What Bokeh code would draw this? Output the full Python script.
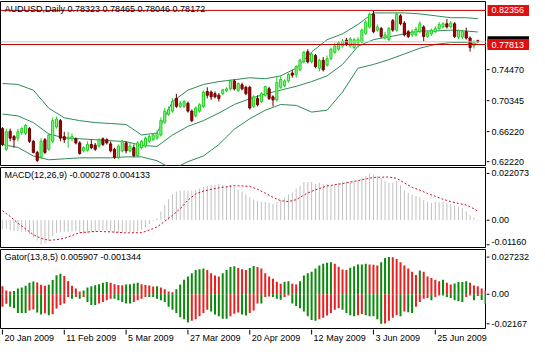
from bokeh.plotting import figure
from bokeh.layouts import column, row
from bokeh.models import Range1d, Label, Span
from bokeh.core.properties import value
from bokeh.embed import file_html
from bokeh.resources import INLINE

FONT = "Liberation Sans"

# ---------------- data ----------------
opens = [0.6662,0.6387,0.6628,0.6556,0.6535,0.6611,0.6599,0.6662,0.6493,0.6345,
         0.6281,0.6514,0.6387,0.6493,0.6683,0.6768,0.6556,0.6527,0.6527,0.6527,
         0.6472,0.6366,0.6374,0.6451,0.6442,0.6429,0.6527,0.6514,0.6459,0.6387,
         0.6281,0.6366,0.6472,0.6366,0.6408,0.6302,0.6408,0.6429,0.6493,0.6514,
         0.6535,0.6577,0.6747,0.6852,0.6895,0.7064,0.6958,0.6958,0.7000,0.6895,
         0.6831,0.6895,0.6958,0.7157,0.7148,0.7127,0.7106,0.7127,0.7170,0.7191,
         0.7297,0.7170,0.7246,0.7212,0.7212,0.6958,0.7064,0.7022,0.7106,0.7191,
         0.7085,0.7043,0.7212,0.7233,0.7297,0.7402,0.7381,0.7445,0.7550,0.7686,
         0.7550,0.7635,0.7466,0.7572,0.7508,0.7593,0.7677,0.7719,0.7762,0.7838,
         0.7762,0.7741,0.7804,0.7813,0.7931,0.8016,0.8185,0.7973,0.7994,0.7868,
         0.7846,0.8100,0.7973,0.8164,0.8066,0.7952,0.7910,0.7910,0.7952,0.8016,
         0.7889,0.7923,0.7952,0.7994,0.8016,0.8058,0.8016,0.8058,0.7880,0.7880,
         0.7952,0.7868,0.7762,0.78323]
highs = [0.6683,0.6662,0.6662,0.6577,0.6662,0.6683,0.6725,0.6683,0.6514,0.6366,
         0.6535,0.6535,0.6599,0.6810,0.6823,0.6789,0.6620,0.6620,0.6599,0.6544,
         0.6493,0.6429,0.6493,0.6514,0.6472,0.6535,0.6544,0.6535,0.6493,0.6408,
         0.6451,0.6514,0.6493,0.6472,0.6451,0.6493,0.6514,0.6556,0.6577,0.6599,
         0.6641,0.6810,0.6937,0.6958,0.7064,0.7127,0.7034,0.7043,0.7022,0.6916,
         0.6958,0.7000,0.7170,0.7212,0.7170,0.7157,0.7136,0.7191,0.7212,0.7318,
         0.7318,0.7275,0.7275,0.7233,0.7233,0.7106,0.7106,0.7148,0.7233,0.7220,
         0.7106,0.7360,0.7360,0.7318,0.7402,0.7445,0.7508,0.7593,0.7698,0.7719,
         0.7677,0.7656,0.7593,0.7614,0.7635,0.7741,0.7804,0.7825,0.7855,0.7868,
         0.7880,0.7868,0.7880,0.7994,0.8109,0.8206,0.82356,0.8049,0.8016,0.7952,
         0.8016,0.8121,0.8214,0.8185,0.8092,0.7973,0.7982,0.8016,0.8092,0.8037,
         0.7965,0.7994,0.8024,0.8079,0.8079,0.8121,0.8092,0.8079,0.7982,0.7973,
         0.8007,0.7889,0.7838,0.78465]
lows = [0.6429,0.6366,0.6493,0.6408,0.6493,0.6577,0.6577,0.6472,0.6332,0.6218,
        0.6260,0.6324,0.6366,0.6472,0.6662,0.6493,0.6472,0.6408,0.6493,0.6451,
        0.6315,0.6345,0.6357,0.6387,0.6366,0.6408,0.6429,0.6451,0.6345,0.6260,
        0.6260,0.6345,0.6332,0.6345,0.6281,0.6281,0.6387,0.6408,0.6472,0.6493,
        0.6514,0.6556,0.6725,0.6831,0.6874,0.6937,0.6937,0.6937,0.6874,0.6747,
        0.6810,0.6874,0.6937,0.7064,0.7043,0.7064,0.7022,0.7106,0.7148,0.7170,
        0.7170,0.7148,0.7170,0.7106,0.6916,0.6937,0.6958,0.7000,0.7085,0.7043,
        0.6958,0.7022,0.7191,0.7212,0.7275,0.7339,0.7339,0.7423,0.7529,0.7529,
        0.7529,0.7466,0.7423,0.7423,0.7487,0.7572,0.7656,0.7698,0.7741,0.7762,
        0.7741,0.7719,0.7741,0.7796,0.7910,0.7994,0.7931,0.7952,0.7868,0.7846,
        0.7825,0.7952,0.7952,0.8037,0.7889,0.7868,0.7880,0.7889,0.7931,0.7825,
        0.7868,0.7897,0.7931,0.7973,0.7994,0.7994,0.7994,0.7868,0.7855,0.7855,
        0.7846,0.7686,0.7728,0.78046]
closes = [0.6451,0.6620,0.6535,0.6514,0.6620,0.6662,0.6704,0.6493,0.6345,0.6239,
          0.6493,0.6345,0.6577,0.6768,0.6789,0.6535,0.6514,0.6544,0.6556,0.6472,
          0.6332,0.6408,0.6451,0.6408,0.6387,0.6514,0.6451,0.6472,0.6366,0.6281,
          0.6429,0.6493,0.6366,0.6429,0.6302,0.6472,0.6493,0.6535,0.6556,0.6577,
          0.6599,0.6768,0.6895,0.6916,0.7022,0.6958,0.7000,0.7022,0.6895,0.6768,
          0.6937,0.6979,0.7148,0.7106,0.7085,0.7085,0.7064,0.7178,0.7191,0.7297,
          0.7191,0.7263,0.7191,0.7127,0.6937,0.7085,0.6979,0.7127,0.7220,0.7064,
          0.7043,0.7275,0.7318,0.7297,0.7381,0.7373,0.7487,0.7572,0.7677,0.7550,
          0.7656,0.7487,0.7572,0.7445,0.7593,0.7719,0.7762,0.7804,0.7825,0.7783,
          0.7855,0.7846,0.7846,0.7973,0.8079,0.8185,0.7952,0.8016,0.7889,0.7910,
          0.7994,0.7973,0.8185,0.8058,0.7910,0.7889,0.7952,0.7982,0.8058,0.7889,
          0.7939,0.7973,0.7994,0.8049,0.8058,0.8016,0.8066,0.7889,0.7965,0.7952,
          0.7868,0.7741,0.7813,0.78172]

bb_idx = [0,4,8,12,16,20,24,28,32,36,40,44,48,52,56,60,64,68,72,76,80,84,88,92,96,100,104,108,112,116,120,123]
bb_upper = [0.7263,0.7250,0.7174,0.6933,0.6806,0.6768,0.6742,0.6730,0.6717,0.6577,0.6603,0.7022,0.7174,0.7250,0.7288,0.7313,
            0.7339,0.7326,0.7364,0.7466,0.7681,0.7846,0.7923,0.8049,0.8202,0.8202,0.8202,0.8189,0.8164,0.8138,0.8138,0.8126]
bb_middle = [0.6856,0.6831,0.6742,0.6590,0.6539,0.6527,0.6514,0.6501,0.6489,0.6438,0.6425,0.6577,0.6692,0.6768,0.6869,0.6983,
             0.7060,0.7123,0.7174,0.7225,0.7288,0.7364,0.7516,0.7758,0.7846,0.7884,0.7923,0.7961,0.7961,0.7973,0.7961,0.7948]
bb_lower = [0.6450,0.6412,0.6298,0.6247,0.6260,0.6273,0.6273,0.6273,0.6286,0.6286,0.6235,0.6121,0.6222,0.6298,0.6450,0.6654,
            0.6793,0.6907,0.6983,0.6971,0.6882,0.6907,0.7149,0.7466,0.7516,0.7580,0.7656,0.7732,0.7783,0.7808,0.7808,0.7783]

macd_main = [-0.0041,-0.0041,-0.0048,-0.0051,-0.0051,-0.0055,-0.0055,-0.0066,-0.0081,-0.0096,
             -0.0116,-0.0110,-0.0098,-0.0075,-0.0060,-0.0055,-0.0055,-0.0055,-0.0053,-0.0053,
             -0.0060,-0.0063,-0.0060,-0.0057,-0.0055,-0.0051,-0.0048,-0.0048,-0.0053,-0.0060,
             -0.0063,-0.0060,-0.0055,-0.0055,-0.0060,-0.0053,-0.0045,-0.0033,-0.0018,-0.0003,
             0.0009,0.0041,0.0072,0.0099,0.0122,0.0135,0.0140,0.0140,0.0140,0.0140,
             0.0144,0.0149,0.0158,0.0162,0.0167,0.0167,0.0171,0.0167,0.0162,0.0167,
             0.0158,0.0144,0.0135,0.0122,0.0108,0.0099,0.0090,0.0086,0.0086,0.0081,
             0.0077,0.0086,0.0095,0.0108,0.0122,0.0131,0.0149,0.0162,0.0180,0.0180,
             0.0180,0.0171,0.0176,0.0171,0.0171,0.0162,0.0170,0.0177,0.0180,0.0183,
             0.0185,0.0185,0.0189,0.0199,0.0207,0.022073,0.0215,0.0210,0.0199,0.0185,
             0.0177,0.0177,0.0185,0.0165,0.0140,0.0129,0.0120,0.0114,0.0108,0.0095,
             0.0087,0.0081,0.0087,0.0084,0.0087,0.0082,0.0077,0.0069,0.0063,0.0057,
             0.0042,0.0023,0.0012,-0.000278]
sig_idx = [0,2,4,6,8,10,12,14,16,18,20,24,28,32,36,38,40,42,44,46,48,50,52,56,60,64,66,68,70,72,74,76,78,80,
           84,88,92,96,100,102,104,106,108,110,112,114,116,118,120,122,123]
sig_vals = [0.0045,0.0018,-0.0014,-0.0041,-0.0068,-0.0086,-0.0095,-0.0092,-0.0086,-0.0072,-0.0059,-0.0053,-0.0055,
            -0.0060,-0.0059,-0.0047,-0.0032,-0.0005,0.0023,0.0054,0.0095,0.0124,0.0138,0.0153,0.0163,0.0160,0.0146,
            0.0128,0.0108,0.0092,0.0088,0.0097,0.0119,0.0137,0.0162,0.0173,0.0187,0.0202,0.0204,0.0198,0.0176,
            0.0155,0.0142,0.0126,0.0113,0.0099,0.0088,0.0079,0.0072,0.0054,0.004133]

gator_up = [0.0059,0.0028,0.0021,0.0024,0.0042,0.0049,0.0063,0.0084,0.0094,0.0087,
            0.0070,0.0063,0.0070,0.0105,0.0140,0.0150,0.0133,0.0098,0.0063,0.0042,
            0.0021,0.0028,0.0049,0.0059,0.0066,0.0073,0.0084,0.0089,0.0084,0.0073,
            0.0068,0.0066,0.0072,0.0073,0.0079,0.0084,0.0073,0.0068,0.0065,0.0056,
            0.0059,0.0049,0.0037,0.0021,0.0014,0.0037,0.0072,0.0107,0.0131,0.0154,
            0.0177,0.0184,0.0188,0.0177,0.0154,0.0138,0.0131,0.0154,0.0177,0.0200,
            0.0205,0.0193,0.0184,0.0177,0.0193,0.0207,0.0200,0.0188,0.0154,0.0131,
            0.0114,0.0091,0.0077,0.0091,0.0096,0.0077,0.0072,0.0096,0.0138,0.0154,
            0.0165,0.0188,0.0211,0.0223,0.0230,0.0234,0.0223,0.0202,0.0181,0.0177,
            0.0195,0.0205,0.0218,0.0218,0.0223,0.0218,0.0216,0.0211,0.0235,0.0265,
            0.027232,0.0271,0.0258,0.0235,0.0211,0.0188,0.0165,0.0142,0.0175,0.0165,
            0.0131,0.0119,0.0107,0.0096,0.0107,0.0084,0.0072,0.0079,0.0089,0.0089,
            0.0096,0.0084,0.0065,0.005907,0.0042,0.0028]
gator_dn = [-0.0091,-0.0070,-0.0091,-0.0103,-0.0138,-0.0138,-0.0138,-0.0119,-0.0112,-0.0133,
            -0.0149,-0.0140,-0.0154,-0.0147,-0.0105,-0.0079,-0.0068,-0.0021,-0.0033,-0.0021,
            -0.0033,-0.0021,-0.0056,-0.0079,-0.0079,-0.0068,-0.0056,-0.0044,-0.0033,-0.0033,
            -0.0044,-0.0056,-0.0068,-0.0068,-0.0056,-0.0044,-0.0033,-0.0021,-0.0021,-0.0021,
            -0.0033,-0.0044,-0.0056,-0.0091,-0.0114,-0.0138,-0.0168,-0.0184,-0.0207,-0.0195,
            -0.0184,-0.0161,-0.0138,-0.0114,-0.0126,-0.0149,-0.0161,-0.0179,-0.0179,-0.0161,
            -0.0142,-0.0133,-0.0149,-0.0156,-0.0138,-0.0119,-0.0068,-0.0068,-0.0021,-0.0016,
            -0.0021,-0.0033,-0.0040,-0.0021,-0.0009,-0.0068,-0.0086,-0.0103,-0.0126,-0.0161,
            -0.0188,-0.0195,-0.0184,-0.0172,-0.0156,-0.0138,-0.0114,-0.0103,-0.0114,-0.0138,
            -0.0154,-0.0161,-0.0154,-0.0144,-0.0154,-0.0161,-0.0161,-0.0184,-0.02167,-0.0214,
            -0.0195,-0.0172,-0.0154,-0.0161,-0.0126,-0.0131,-0.0138,-0.0091,-0.0056,-0.0033,
            -0.0028,-0.0044,-0.0021,-0.0009,-0.0009,-0.0021,-0.0028,-0.0044,-0.0051,-0.0056,
            -0.0021,-0.0009,-0.0044,-0.001344,-0.0042,-0.0070]

date_idx = [0, 16, 32, 48, 64, 80, 96, 112]
date_labels = ["20 Jan 2009", "11 Feb 2009", "5 Mar 2009", "27 Mar 2009",
               "20 Apr 2009", "12 May 2009", "3 Jun 2009", "25 Jun 2009"]

price_ticks = [0.6222, 0.6622, 0.70345, 0.7447]
price_tick_labels = ["0.62220", "0.66220", "0.70345", "0.74470"]
macd_ticks = [-0.0116, 0.0, 0.022073]
macd_tick_labels = ["-0.01160", "0.00", "0.022073"]
gator_ticks = [-0.02167, 0.0, 0.027232]
gator_tick_labels = ["-0.02167", "0.00", "0.027232"]

level_values = [0.82356, 0.77813]
level_labels = ["0.82356", "0.77813"]
bid = 0.78172

header_price = "AUDUSD,Daily  0.78323 0.78465 0.78046 0.78172"
header_macd = "MACD(12,26,9) -0.000278 0.004133"
header_gator = "Gator(13,8,5) 0.005907 -0.001344"

# ---------------- layout helpers ----------------
FW = 486          # plot frame width
SW = 43           # right scale width
x_range = Range1d(-0.5, 125.25)

def base_fig(fw, fh, xr, yr, outline):
    p = figure(frame_width=fw, frame_height=fh, x_range=xr, y_range=yr,
               output_backend="svg", toolbar_location=None,
               x_axis_location=None, y_axis_location=None,
               min_border_left=0, min_border_right=0, min_border_top=1, min_border_bottom=1)
    p.grid.visible = False
    p.outline_line_color = "black" if outline else None
    p.outline_line_width = 1
    p.background_fill_color = "white"
    p.border_fill_color = "white"
    return p

def scale_fig(fh, yr, ticks, labels, baselines):
    s = base_fig(SW, fh, Range1d(0, SW), yr, False)
    n = len(ticks)
    s.segment(x0=[0] * n, y0=ticks, x1=[3] * n, y1=ticks, line_color="black", line_width=1)
    for t, lab, bl in zip(ticks, labels, baselines):
        s.text(x=[5], y=[t], text=[lab], text_font=value(FONT), text_font_size="9px",
               text_color="black", text_align="left", text_baseline=bl)
    return s

def header(p, txt, y1):
    p.add_layout(Label(x=-0.5, y=y1, x_offset=4, y_offset=-2, text=txt, text_font=FONT,
                       text_font_size="9px", text_color="black", text_baseline="top", text_align="left"))

# ---- price pane ----
yr1 = Range1d(0.6171, 0.8354)
p1 = base_fig(FW, 164, x_range, yr1, True)
for band in (bb_upper, bb_middle, bb_lower):
    p1.line(bb_idx, band, line_color="#2E8B57", line_width=1)

idx = list(range(len(closes)))
bull = [c >= o for o, c in zip(opens, closes)]
wick_col = ["#1FCF1F" if b else "#6A0000" for b in bull]
body_fill = ["#8CF58C" if b else "#B00000" for b in bull]
body_top = [max(o, c) for o, c in zip(opens, closes)]
body_bot = [min(o, c) for o, c in zip(opens, closes)]
p1.segment(x0=idx, y0=lows, x1=idx, y1=highs, line_color=wick_col, line_width=1)
p1.vbar(x=idx, top=body_top, bottom=body_bot, width=0.55, fill_color=body_fill,
        line_color=wick_col, line_width=1)

p1.add_layout(Span(location=bid, dimension="width", line_color="#C8C8C8", line_width=1))
for lv in level_values:
    p1.add_layout(Span(location=lv, dimension="width", line_color="#C00000", line_width=1))
header(p1, header_price, yr1.end)

s1 = scale_fig(164, yr1, price_ticks, price_tick_labels, ["middle"] * 4)
s1.rect(x=[22], y=[bid], width=42, height=11, height_units="screen", fill_color="black", line_color=None)
s1.rect(x=[22] * 2, y=level_values, width=42, height=11, height_units="screen",
        fill_color="#E01010", line_color=None)
s1.text(x=[5] * 2, y=level_values, text=level_labels, text_font=value(FONT), text_font_size="9px",
        text_color="white", text_align="left", text_baseline="middle")

# ---- MACD pane ----
yr2 = Range1d(-0.0129, 0.0249)
p2 = base_fig(FW, 80, x_range, yr2, True)
midx = list(range(len(macd_main)))
p2.segment(x0=midx, y0=[0.0] * len(midx), x1=midx, y1=macd_main, line_color="#C0C0C0", line_width=1)
p2.line(sig_idx, sig_vals, line_color="#D0102A", line_width=1, line_dash="2 2")
header(p2, header_macd, yr2.end)
s2 = scale_fig(80, yr2, macd_ticks, macd_tick_labels, ["bottom", "middle", "middle"])

# ---- Gator pane ----
yr3 = Range1d(-0.0251, 0.0328)
p3 = base_fig(FW, 79, x_range, yr3, True)
gidx = list(range(len(gator_up)))
GREEN, RED = "#0A8A0A", "#E82020"
up_col = [RED if i == 0 or gator_up[i] < gator_up[i - 1] else GREEN for i in gidx]
dn_col = [RED if i == 0 or abs(gator_dn[i]) < abs(gator_dn[i - 1]) else GREEN for i in gidx]
p3.segment(x0=gidx, y0=[0.0] * len(gidx), x1=gidx, y1=gator_up, line_color=up_col, line_width=2)
p3.segment(x0=gidx, y0=[0.0] * len(gidx), x1=gidx, y1=gator_dn, line_color=dn_col, line_width=2)
header(p3, header_gator, yr3.end)
s3 = scale_fig(79, yr3, gator_ticks, gator_tick_labels, ["middle"] * 3)

# ---- date axis strip ----
d = figure(frame_width=FW + SW, frame_height=16,
           x_range=Range1d(x_range.start, x_range.start + (x_range.end - x_range.start) * (FW + SW) / FW),
           y_range=Range1d(0, 16), output_backend="svg", toolbar_location=None,
           x_axis_location=None, y_axis_location=None,
           min_border_left=0, min_border_right=0, min_border_top=0, min_border_bottom=0)
d.grid.visible = False
d.outline_line_color = None
d.background_fill_color = "white"
d.border_fill_color = "white"
nd = len(date_idx)
d.segment(x0=date_idx, y0=[16] * nd, x1=date_idx, y1=[11] * nd, line_color="black", line_width=1)
d.text(x=date_idx, y=[13] * nd, text=date_labels, x_offset=2, text_font=value(FONT),
       text_font_size="9px", text_color="black", text_align="left", text_baseline="top")

layout = column(row(p1, s1, spacing=0), row(p2, s2, spacing=0), row(p3, s3, spacing=0), d, spacing=0)
open("out.html", "w").write(file_html(layout, INLINE))
